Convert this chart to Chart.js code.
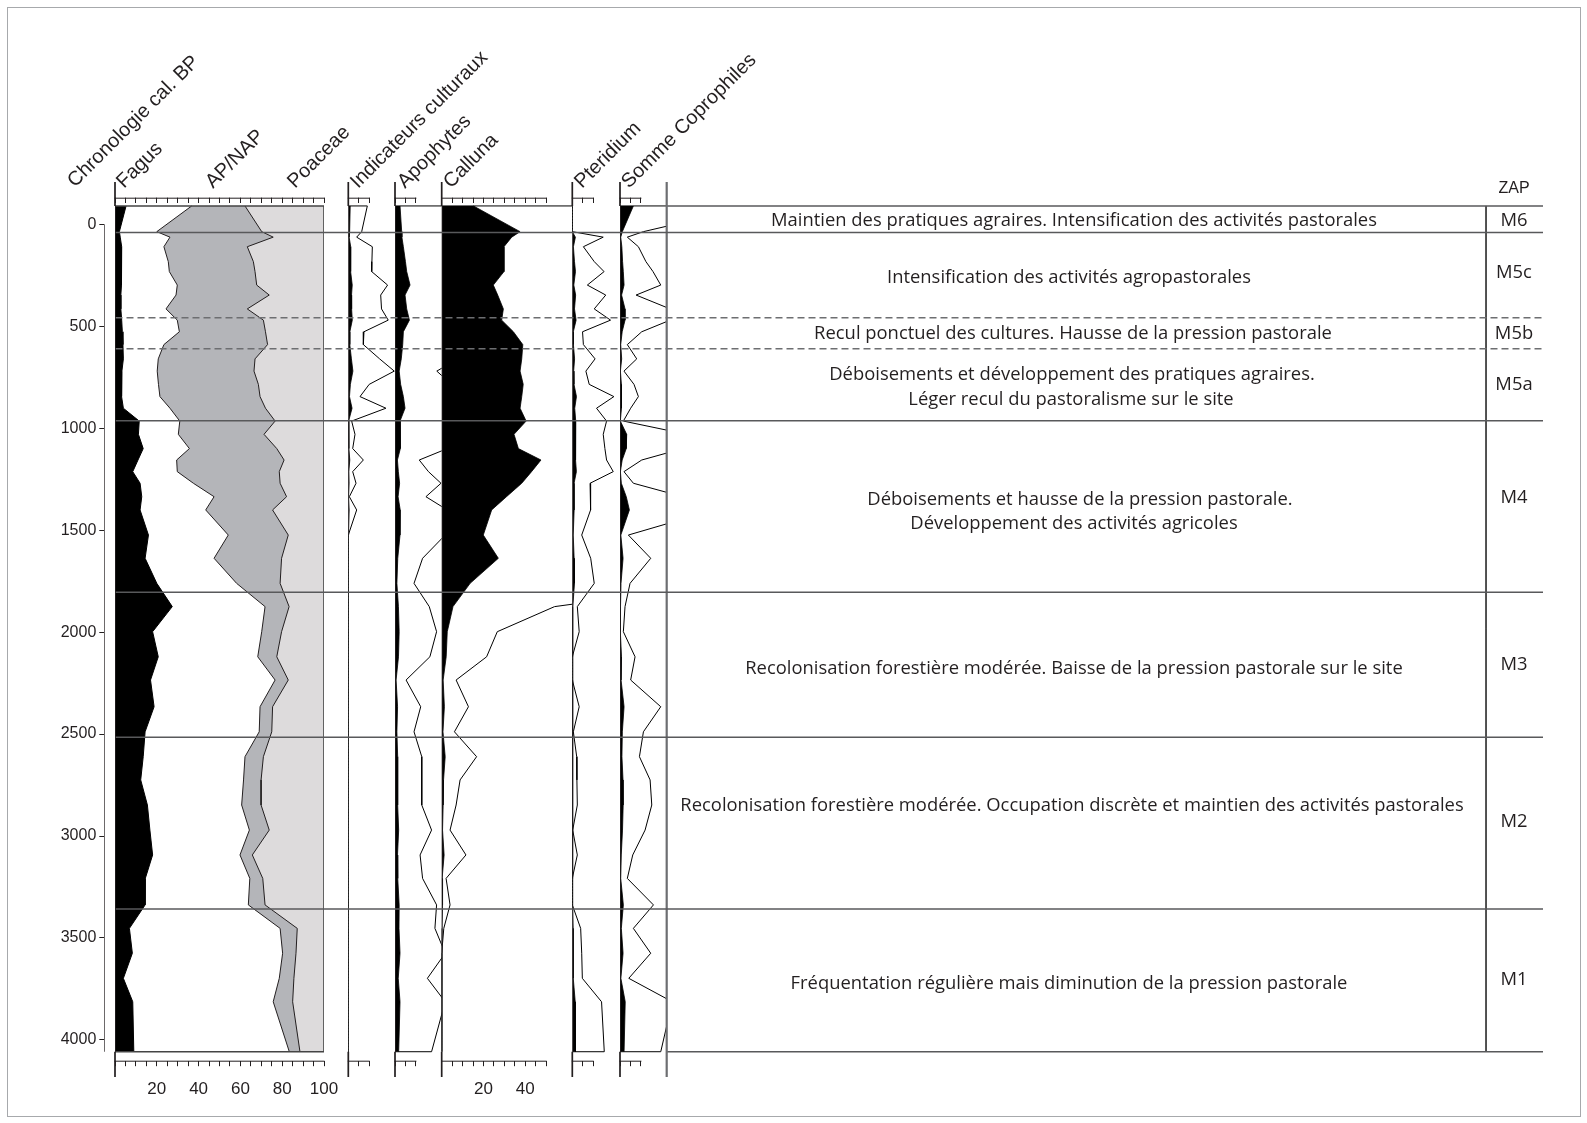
<!DOCTYPE html>
<html lang="fr">
<head>
<meta charset="utf-8">
<title>Diagramme pollinique simplifié</title>
<script src="https://cdn.jsdelivr.net/npm/chart.js@4.4.1/dist/chart.umd.min.js"></script>
<style>
html,body{margin:0;padding:0;background:#fff;}
body{position:relative;width:1587px;height:1123px;overflow:hidden;}
canvas{position:absolute;left:0;top:0;}
.txt{position:absolute;white-space:nowrap;color:#231f20;line-height:1;}
.title{font-family:'Liberation Sans',Arial,Helvetica,sans-serif;font-size:20px;transform-origin:0 17px;transform:rotate(-45deg);}
.zone{font-family:'Open Sans','Noto Sans',sans-serif;font-size:19px;}
.zap{font-family:'Liberation Sans',Arial,Helvetica,sans-serif;font-size:16px;transform:translate(-50%,-50%);}
#frame{position:absolute;left:7px;top:7px;width:1572px;height:1108px;border:1px solid #a7a9ac;}
</style>
</head>
<body>
<div id="frame"></div>
<script>
// ---------------- DATA ----------------
const depths = [-90, 36, 63, 110, 183, 232, 298, 347, 415, 470, 527, 590, 660, 720, 785, 845, 902, 965, 1030, 1100,
  1156, 1213, 1270, 1336, 1401, 1524, 1638, 1761, 1875, 1998, 2121, 2235, 2366, 2489, 2611, 2725, 2848, 2971, 3093,
  3208, 3338, 3453, 3575, 3698, 3813, 4058];

const fagus = [5.3, 2.1, 2.5, 3.2, 3.2, 3.1, 3.0, 2.8, 2.8, 3.2, 3.5, 3.8, 4.0, 3.3, 3.0, 3.3, 4.0, 11.6, 11.2, 13.5,
  11.0, 8.5, 12.0, 12.8, 12.0, 16.0, 14.4, 20.0, 27.4, 18.0, 20.7, 17.0, 18.7, 14.4, 13.5, 12.3, 15.5, 16.7, 18.0,
  14.5, 14.4, 6.9, 8.3, 4.0, 8.5, 9.0];

// AP/NAP : limite gauche de la zone gris foncé
const apNap = [36.7, 20, 26.3, 23.4, 25.5, 26, 29.8, 29.2, 24.4, 29.8, 30.8, 23.4, 20.7, 20.2, 20.8, 21.5, 26.3, 31,
  30.3, 35.6, 29.5, 29.8, 37.5, 47.4, 43.4, 54.2, 47.4, 58.2, 71.8, 70.2, 68.3, 76.6, 69.4, 69, 62.2, 61.5, 60.6,
  64.3, 59.8, 64.5, 63.8, 79, 80.2, 78.6, 75.7, 83.4];

// Poaceae : limite gauche de la zone gris clair
const poaceae = [62.2, 70.2, 75.7, 63.3, 66.2, 67, 67.8, 73.8, 63.3, 71, 72, 73, 67, 66.5, 68.6, 69.4, 72, 76.6, 71.3,
  77.4, 80.9, 78.6, 79, 82.1, 75.4, 82.9, 79.7, 79, 83.3, 79.7, 77.4, 82.9, 75.4, 75, 71, 69.9, 69.9, 73.8, 65.7,
  70.7, 71.8, 87.2, 86.6, 85.6, 85, 88.5];

const indicateurs = [0.91, 0.64, 0.40, 1.15, 1.13, 1.12, 1.88, 1.55, 1.59, 1.91, 0.75, 0.72, 1.50, 2.20, 1.00, 0.56,
  1.80, 0.16, 0.32, 0.21, 0.72, 0.21, 0.37, 0.05, 0.40, 0, 0, 0, 0, 0, 0, 0, 0, 0, 0, 0, 0, 0, 0, 0, 0, 0, 0, 0, 0, 0];

const apophytes = [2.4, 3.2, 3.3, 4.0, 5.0, 5.6, 7.2, 4.8, 5.6, 6.9, 4.0, 3.7, 3.0, 2.0, 2.7, 4.0, 4.8, 2.4, 2.6, 2.5,
  1.16, 1.6, 2.2, 1.48, 2.5, 2.4, 1.32, 0.91, 1.64, 1.99, 1.67, 0.53, 1.23, 0.91, 1.28, 1.28, 1.28, 1.75, 1.2, 1.32,
  1.99, 1.91, 2.4, 1.55, 2.4, 1.75];

const calluna = [15.2, 37.5, 33.5, 29.8, 29.8, 29.8, 24.7, 26.8, 29.5, 28.7, 34.3, 38.8, 38.3, 37.5, 39.0, 38.3, 37.5,
  40.4, 34.6, 36.7, 47.5, 43.0, 38.3, 31.0, 23.9, 19.9, 27.1, 13.6, 5.4, 2.66, 2.15, 0.69, 1.28, 0.61, 1.67, 0.88,
  0.69, 0.40, 1.16, 0.21, 0.40, 0.10, 0, 0, 0, 0];

const pteridium = [0, 0, 1.48, 0.53, 1.05, 1.52, 0.72, 1.60, 1.05, 1.83, 0.49, 0.53, 1.09, 0.65, 0.81, 1.99, 1.16,
  1.64, 1.48, 1.56, 1.64, 1.96, 0.85, 0.87, 0.88, 0.45, 0.88, 1.05, 0.24, 0.33, 0, 0, 0.33, 0.05, 0.21, 0.22, 0.24,
  0.02, 0.24, 0, 0, 0.40, 0.45, 0.48, 1.40, 1.53];

const coprophiles = [6.4, 1.12, 0.35, 0.88, 1.24, 1.58, 1.95, 0.77, 2.4, 2.4, 1.04, 0.35, 0.80, 0.19, 0.67, 0.88,
  0.51, 0.16, 3.2, 3.0, 1.04, 0.19, 0.64, 3.0, 4.5, 0.40, 1.47, 0.48, 0.24, 0.16, 0.72, 0.51, 1.95, 1.12, 0.93, 1.44,
  1.52, 1.20, 0.61, 0.35, 1.60, 0.64, 1.47, 0.42, 2.5, 1.95];

const EXAG = 10; // courbe d'exagération x10

const zoneBounds = [40, 458, 610, 963, 1805, 2516, 3358];
const zoneDashed = [false, true, true, false, false, false, false];

const yTicks = [0, 500, 1000, 1500, 2000, 2500, 3000, 3500, 4000];
const mainTicks = [0, 5, 10, 15, 20, 25, 30, 35, 40, 45, 50, 55, 60, 65, 70, 75, 80, 85, 90, 95, 100];
const mainLabels = [20, 40, 60, 80, 100];
const smallTicks = [0, 5, 10];
const callunaTicks = [0, 5, 10, 15, 20, 25, 30, 35, 40, 45, 50];
const callunaLabels = [20, 40];

const titles = ['Chronologie cal. BP', 'Fagus', 'AP/NAP', 'Poaceae', 'Indicateurs culturaux', 'Apophytes',
  'Calluna', 'Pteridium', 'Somme Coprophiles'];
const zoneLines = [
  'Maintien des pratiques agraires. Intensification des activités pastorales',
  'Intensification des activités agropastorales',
  'Recul ponctuel des cultures. Hausse de la pression pastorale',
  'Déboisements et développement des pratiques agraires.',
  'Léger recul du pastoralisme sur le site',
  'Déboisements et hausse de la pression pastorale.',
  'Développement des activités agricoles',
  'Recolonisation forestière modérée. Baisse de la pression pastorale sur le site',
  'Recolonisation forestière modérée. Occupation discrète et maintien des activités pastorales',
  'Fréquentation régulière mais diminution de la pression pastorale'
];
const zoneCodes = ['M6', 'M5c', 'M5b', 'M5a', 'M4', 'M3', 'M2', 'M1'];

// ---------------- LAYOUT ----------------
const W = 1587, H = 1123;
const AREA_TOP = 203.3, AREA_BOTTOM = 1060.7;
const TOP_AXIS_H = 5.6, BOTTOM_AXIS_H = 42;
const Y_MIN = -103, Y_MAX = 4102;
const PX_PER_PCT = 2.09;
const EXT_TOP = 182, EXT_BOTTOM = 1077;
const INK = '#231f20';
const N = depths.length, D0 = depths[0], DN = depths[N - 1];

const titlePos = [[75, 188], [124, 189], [213, 189], [295, 189], [358, 189], [405, 189], [451, 189], [582, 189], [629, 189]];
const zoneTextPos = [[1074, 218.6, 604], [1069, 276, 364], [1073, 332, 513], [1072, 372.5, 487], [1071, 397.8, 325],
  [1080, 498, 440], [1074, 522, 332], [1074, 667, 650], [1072, 803.6, 783], [1069, 982, 557]];
const zoneCodeY = [218.6, 271, 332, 382.6, 496, 663, 820, 978];

Chart.defaults.font.family = "'Liberation Sans', Arial, Helvetica, sans-serif";
Chart.defaults.color = INK;

function newCanvas() {
  const c = document.createElement('canvas');
  c.width = W; c.height = H;
  c.style.width = W + 'px'; c.style.height = H + 'px';
  document.body.appendChild(c);
  return c.getContext('2d');
}

const series = (vals, f = 1) => depths.map((d, i) => ({ x: vals[i] * f, y: d }));
const closedSeries = (vals, f) => [{ x: 0, y: D0 }, ...series(vals, f), { x: 0, y: DN }];
const zeros = depths.map(() => 0);

const extrasPlugin = {
  id: 'extras',
  afterDraw(chart, _a, o) {
    const ctx = chart.ctx, xs = chart.scales.x, ys = chart.scales.y;
    const yTop = ys.getPixelForValue(D0), yBot = ys.getPixelForValue(DN);
    ctx.save();
    (o.frameLines || []).forEach(l => {
      const x = xs.getPixelForValue(l.x);
      ctx.strokeStyle = l.color; ctx.lineWidth = l.width;
      ctx.beginPath();
      if (l.full) { ctx.moveTo(x, EXT_TOP); ctx.lineTo(x, EXT_BOTTOM); }
      else { ctx.moveTo(x, EXT_TOP); ctx.lineTo(x, yTop); ctx.moveTo(x, yBot); ctx.lineTo(x, EXT_BOTTOM); }
      ctx.stroke();
    });
    (o.axisLines || []).forEach(a => {
      const s = chart.scales[a.scale];
      ctx.strokeStyle = INK; ctx.lineWidth = 1;
      ctx.beginPath();
      ctx.moveTo(s.getPixelForValue(0) - 0.5, s.top + 0.5);
      ctx.lineTo(s.getPixelForValue(a.to) + 0.5, s.top + 0.5);
      ctx.stroke();
    });
    ctx.restore();
  }
};

function baseOptions(left, right, xScales, extras, withAxes) {
  return {
    indexAxis: 'y', responsive: false, maintainAspectRatio: false, animation: false, devicePixelRatio: 1, events: [],
    layout: { padding: { left, right: W - right,
      top: withAxes ? AREA_TOP - TOP_AXIS_H : AREA_TOP,
      bottom: withAxes ? H - AREA_BOTTOM - BOTTOM_AXIS_H : H - AREA_BOTTOM } },
    plugins: { legend: { display: false }, tooltip: { enabled: false }, extras: extras || {} },
    elements: { point: { radius: 0, hoverRadius: 0, hitRadius: 0, borderWidth: 0 },
                line: { tension: 0, borderJoinStyle: 'miter' } },
    scales: Object.assign({ y: { type: 'linear', axis: 'y', reverse: true, min: Y_MIN, max: Y_MAX, display: false } }, xScales)
  };
}

function axisCfg(position, max, ticks, labels) {
  const top = position === 'top';
  return {
    type: 'linear', axis: 'x', position, min: 0, max, display: true,
    afterFit: s => { s.height = top ? TOP_AXIS_H : BOTTOM_AXIS_H; },
    afterBuildTicks: s => { s.ticks = ticks.map(v => ({ value: v })); },
    grid: { display: true, drawOnChartArea: false, drawTicks: true, tickLength: top ? TOP_AXIS_H : 5.5, color: INK, lineWidth: 1 },
    border: { display: false },
    ticks: { display: !top, autoSkip: false, maxRotation: 0, minRotation: 0, padding: 13, color: INK, font: { size: 17 },
             callback: v => labels.includes(v) ? String(v) : '' }
  };
}

function baseline(vals) {
  const isZero = c => vals[c.p0DataIndex] === 0 && vals[c.p1DataIndex] === 0;
  return { data: series(zeros), xAxisID: 'x', yAxisID: 'y', borderColor: INK, borderWidth: 1.7, fill: false, order: 1,
    segment: { borderDash: c => isZero(c) ? [1.2, 1.8] : undefined,
               borderWidth: c => isZero(c) ? 1.1 : undefined,
               borderColor: c => isZero(c) ? '#444' : undefined } };
}

function panelChart(left, right, datasets, ticks, labels) {
  const max = (right - left) / PX_PER_PCT;
  const last = ticks[ticks.length - 1];
  return new Chart(newCanvas(), {
    type: 'line',
    data: { datasets },
    options: baseOptions(left, right,
      { x: axisCfg('bottom', max, ticks, labels), xTop: axisCfg('top', max, ticks, []) },
      { frameLines: [{ x: 0, color: INK, width: 1.7 }], axisLines: [{ scale: 'x', to: last }, { scale: 'xTop', to: last }] },
      true),
    plugins: [extrasPlugin]
  });
}

function smallPanel(left, right, vals, ticks, labels) {
  return panelChart(left, right, [
    { data: closedSeries(vals, EXAG), xAxisID: 'x', yAxisID: 'y', borderColor: '#000', borderWidth: 1, fill: false, order: 3 },
    { data: series(vals), xAxisID: 'x', yAxisID: 'y', borderColor: '#000', borderWidth: 0.8, backgroundColor: '#000', fill: 'origin', order: 2 },
    baseline(vals)
  ], ticks, labels);
}

// Panel 1 : Fagus / AP-NAP / Poaceae
const FULL = 100;
panelChart(115, 324, [
  { label: 'AP/NAP', data: series(apNap), xAxisID: 'x', yAxisID: 'y', borderColor: INK, borderWidth: 1,
    backgroundColor: '#b4b5b9', fill: { value: FULL }, order: 5 },
  { label: 'Poaceae', data: series(poaceae), xAxisID: 'x', yAxisID: 'y', borderColor: INK, borderWidth: 1,
    backgroundColor: '#dddbdc', fill: { value: FULL }, order: 4 },
  { label: 'Fagus', data: series(fagus), xAxisID: 'x', yAxisID: 'y', borderColor: '#000', borderWidth: 1,
    backgroundColor: '#000', fill: 'origin', order: 3 },
  { label: 'cadre', data: [{ x: 0, y: D0 }, { x: FULL, y: D0 }, { x: FULL, y: DN }, { x: 0, y: DN }], xAxisID: 'x', yAxisID: 'y',
    borderColor: '#444', borderWidth: 1.6, fill: false, order: 2 },
  baseline(fagus)
], mainTicks, mainLabels);

smallPanel(348.3, 395, indicateurs, smallTicks, []);
smallPanel(395, 441.7, apophytes, smallTicks, []);
smallPanel(441.7, 572.3, calluna, callunaTicks, callunaLabels);
smallPanel(572.3, 620, pteridium, smallTicks, []);
smallPanel(620, 666.7, coprophiles, smallTicks, []);

// Y axis
new Chart(newCanvas(), {
  type: 'line',
  data: { datasets: [{ data: [{ x: 0, y: yTicks[0] }, { x: 0, y: DN }], xAxisID: 'x', yAxisID: 'y', borderColor: INK, borderWidth: 1.3, fill: false }] },
  options: Object.assign(baseOptions(0, 112, {}, {}, false), {
    layout: { padding: { left: 104.3 - 60, right: W - 112, top: AREA_TOP, bottom: H - AREA_BOTTOM } },
    scales: {
      y: { type: 'linear', axis: 'y', position: 'left', reverse: true, min: Y_MIN, max: Y_MAX, display: true,
           afterFit: s => { s.width = 60; },
           afterBuildTicks: s => { s.ticks = yTicks.map(v => ({ value: v })); },
           grid: { drawOnChartArea: false, drawTicks: true, tickLength: 5, color: INK, lineWidth: 1 },
           border: { display: false },
           ticks: { autoSkip: false, padding: 3, color: INK, font: { size: 16 }, callback: v => String(v) } },
      x: { type: 'linear', axis: 'x', min: 0, max: 1, display: false }
    }
  })
});

// Zone panel (right)
const ZAP_X = 0.935;
new Chart(newCanvas(), {
  type: 'line',
  data: { datasets: [
    { data: [{ x: 0, y: D0 }, { x: 1, y: D0 }], xAxisID: 'x', yAxisID: 'y', borderColor: '#58595b', borderWidth: 1.5, fill: false },
    { data: [{ x: 0, y: DN }, { x: 1, y: DN }], xAxisID: 'x', yAxisID: 'y', borderColor: '#58595b', borderWidth: 1.5, fill: false },
    { data: [{ x: ZAP_X, y: D0 }, { x: ZAP_X, y: DN }], xAxisID: 'x', yAxisID: 'y', borderColor: '#3a3a3a', borderWidth: 1, fill: false }
  ] },
  options: baseOptions(666.7, 1543, { x: { type: 'linear', axis: 'x', min: 0, max: 1, display: false } },
    { frameLines: [{ x: 0, full: true, color: '#6d6e71', width: 2.2 }] }, false),
  plugins: [extrasPlugin]
});

// Zone boundaries overlay
new Chart(newCanvas(), {
  type: 'line',
  data: { datasets: zoneBounds.map((b, i) => ({
    data: [{ x: 0, y: b }, { x: 1, y: b }], xAxisID: 'x', yAxisID: 'y',
    borderColor: zoneDashed[i] ? '#6d6e71' : '#58595b', borderWidth: 1.5,
    borderDash: zoneDashed[i] ? [7, 4] : [], fill: false })) },
  options: baseOptions(115.5, 1543, { x: { type: 'linear', axis: 'x', min: 0, max: 1, display: false } }, {}, false)
});

// ---------------- TEXT ----------------
function div(text, cls) {
  const d = document.createElement('div');
  d.className = 'txt ' + cls;
  d.textContent = text;
  document.body.appendChild(d);
  return d;
}
titles.forEach((t, i) => {
  const d = div(t, 'title');
  d.style.left = titlePos[i][0] + 'px';
  d.style.top = (titlePos[i][1] - 17) + 'px';
});
const zDivs = zoneLines.map((t, i) => {
  const d = div(t, 'zone');
  d.style.left = zoneTextPos[i][0] + 'px';
  d.style.top = zoneTextPos[i][1] + 'px';
  return d;
});
const ratios = zDivs.map((d, i) => zoneTextPos[i][2] / d.offsetWidth).sort((a, b) => a - b);
const SX = ratios[Math.floor(ratios.length / 2)];
zDivs.forEach(d => { d.style.transform = `translate(-50%,-50%) scaleX(${SX})`; });
zoneCodes.forEach((c, i) => {
  const d = div(c, 'zone');
  d.style.left = '1514px';
  d.style.top = zoneCodeY[i] + 'px';
  d.style.transform = `translate(-50%,-50%) scaleX(${SX})`;
});
const zap = div('ZAP', 'zap');
zap.style.left = '1514px';
zap.style.top = '187.5px';
</script>
</body>
</html>
